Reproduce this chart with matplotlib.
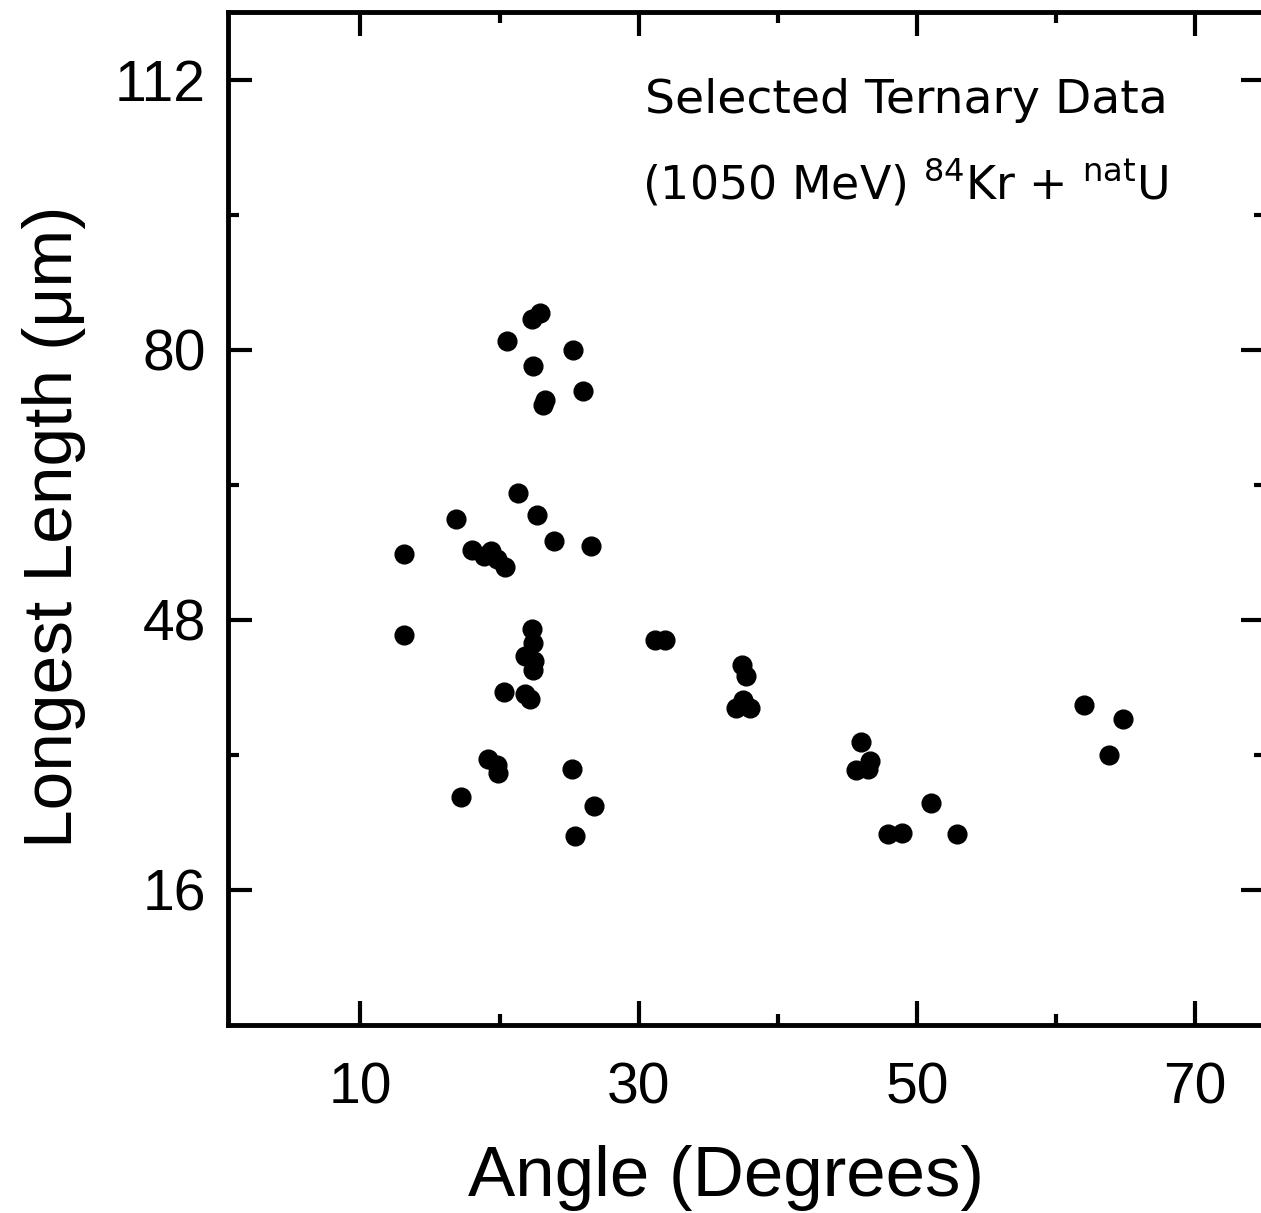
import matplotlib.pyplot as plt
from matplotlib.ticker import FixedLocator

#### DATA
angle = [22.3, 22.9, 20.5, 25.3, 22.4, 26.0, 23.3, 23.1, 21.3, 16.9,
         22.7, 23.9, 26.6, 13.1, 18.0, 18.9, 19.4, 19.8, 20.4, 13.1,
         22.3, 22.4, 21.8, 22.5, 22.4, 20.3, 21.8, 22.2, 19.2, 19.8,
         19.9, 25.2, 17.2, 26.8, 25.4, 31.2, 31.9, 37.4, 37.7, 37.5,
         37.0, 38.0, 46.0, 46.6, 45.6, 46.5, 51.0, 47.9, 48.9, 52.9,
         62.0, 64.8, 63.8]
length = [83.6, 84.4, 81.0, 80.0, 78.1, 75.1, 74.1, 73.4, 63.0, 60.0,
          60.4, 57.3, 56.8, 55.8, 56.3, 55.6, 56.2, 55.2, 54.3, 46.2,
          46.9, 45.3, 43.7, 43.1, 42.1, 39.5, 39.2, 38.6, 31.5, 30.8,
          29.8, 30.3, 27.0, 25.9, 22.4, 45.6, 45.6, 42.7, 41.4, 38.5,
          37.5, 37.5, 33.5, 31.3, 30.2, 30.3, 26.3, 22.6, 22.7, 22.6,
          37.9, 36.2, 32.0]

x_major = [10, 30, 50, 70]
x_minor = [20, 40, 60]
y_major = [16, 48, 80, 112]
y_minor = [32, 64, 96]

title_line1 = 'Selected Ternary Data'
title_line2 = r'(1050 MeV) $^{84}$Kr + $^{\mathrm{nat}}$U'

#### FONTS
narrow = ['Liberation Sans Narrow', 'Liberation Sans', 'DejaVu Sans']

#### FIGURE
fig = plt.figure(figsize=(12.61, 12.13), dpi=100)
# the scan cuts off the right spine, so the axes run just past the figure edge
ax = fig.add_axes([0.181, 0.155, 0.822, 0.835])

ax.plot(angle, length, 'o', color='black', ms=13.5, mec='black')

ax.set_xlim(0.5, 75)
ax.set_ylim(0, 120)

ax.xaxis.set_major_locator(FixedLocator(x_major))
ax.xaxis.set_minor_locator(FixedLocator(x_minor))
ax.yaxis.set_major_locator(FixedLocator(y_major))
ax.yaxis.set_minor_locator(FixedLocator(y_minor))

for s in ax.spines.values():
    s.set_linewidth(3.5)

ax.tick_params(which='both', direction='in', top=True, right=True, width=3)
ax.tick_params(which='major', length=17)
ax.tick_params(which='minor', length=8)
ax.tick_params(axis='x', which='major', pad=26)
ax.tick_params(axis='y', which='major', pad=16)

for lab in ax.get_xticklabels() + ax.get_yticklabels():
    lab.set_family(narrow)
    lab.set_fontsize(41)

ax.set_xlabel('Angle (Degrees)', family=narrow, fontsize=51, va='center')
ax.xaxis.set_label_coords(0.480, -0.151)
ax.set_ylabel('Longest Length (μm)', family=narrow, fontsize=50, va='center')
ax.yaxis.set_label_coords(-0.168, 0.492)

ax.text(0.402, 0.900, title_line1, transform=ax.transAxes,
        fontsize=34, va='baseline', ha='left')
ax.text(0.399, 0.816, title_line2, transform=ax.transAxes,
        fontsize=33, va='baseline', ha='left')

fig.savefig('out.png', dpi=100)
